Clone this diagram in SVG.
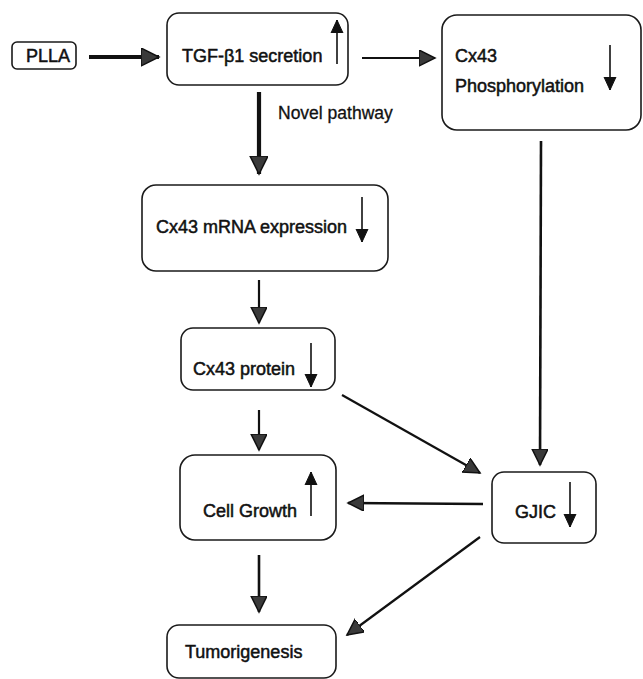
<svg xmlns="http://www.w3.org/2000/svg" width="643" height="679" viewBox="0 0 643 679">
<style>
.box{fill:#fff;stroke:#1a1a1a;stroke-width:1.6}
.t{font-family:"Liberation Sans",Arial,sans-serif;font-size:18px;fill:#111;stroke:#111;stroke-width:0.5}
.lbl{font-family:"Liberation Sans",Arial,sans-serif;font-size:17.5px;fill:#111;stroke:#111;stroke-width:0.3}
.c{fill:none;stroke:#111;stroke-width:2.2}
.thick{stroke-width:4.2}
.ind{fill:none;stroke:#111;stroke-width:1.6}
</style>
<defs>
<marker id="big" markerUnits="userSpaceOnUse" markerWidth="20" markerHeight="20" refX="18" refY="9" orient="auto" viewBox="0 0 20 20">
<path d="M0,0 L18,9 L0,18 z" fill="#3a3a3a" stroke="#111" stroke-width="1.5"/>
</marker>
<marker id="mid" markerUnits="userSpaceOnUse" markerWidth="18" markerHeight="18" refX="16" refY="8" orient="auto" viewBox="0 0 18 18">
<path d="M0,0 L16,8 L0,16 z" fill="#3a3a3a" stroke="#111" stroke-width="1.5"/>
</marker>
<marker id="sm" markerUnits="userSpaceOnUse" markerWidth="14" markerHeight="14" refX="13" refY="6" orient="auto" viewBox="0 0 14 12">
<path d="M0,0 L13,6 L0,12 z" fill="#111" stroke="#111" stroke-width="1"/>
</marker>
</defs>
<g id="connectors">
<line class="c thick" x1="89" y1="57" x2="159" y2="57" marker-end="url(#big)"/>
<line class="c" x1="362" y1="58" x2="435" y2="58" marker-end="url(#mid)"/>
<line class="c thick" x1="259" y1="92" x2="259" y2="174" marker-end="url(#big)"/>
<line class="c" style="stroke-width:2.6" x1="541" y1="141" x2="540" y2="465" marker-end="url(#mid)"/>
<line class="c" x1="259" y1="280" x2="259" y2="323" marker-end="url(#mid)"/>
<line class="c" x1="259" y1="410" x2="259" y2="450" marker-end="url(#mid)"/>
<line class="c" x1="342" y1="395" x2="480" y2="473" marker-end="url(#mid)"/>
<line class="c" style="stroke-width:2.6" x1="483" y1="504" x2="348" y2="503" marker-end="url(#mid)"/>
<line class="c" x1="480" y1="537" x2="347" y2="635" marker-end="url(#mid)"/>
<line class="c" style="stroke-width:2.6" x1="259" y1="555" x2="259" y2="612" marker-end="url(#mid)"/>
</g>
<g id="plla">
<rect class="box" x="12" y="42" width="64" height="27" rx="5"/>
<text class="t" x="26" y="62">PLLA</text>
</g>
<g id="tgf">
<rect class="box" x="167" y="13" width="181" height="72" rx="12"/>
<text class="t" x="182" y="62">TGF-β1 secretion</text>
<line class="ind" x1="337" y1="64" x2="337" y2="20" marker-end="url(#sm)"/>
</g>
<g id="phos">
<rect class="box" x="442" y="15" width="199" height="115" rx="15"/>
<text class="t" x="455" y="62">Cx43</text>
<text class="t" x="455" y="92">Phosphorylation</text>
<line class="ind" x1="610" y1="45" x2="610" y2="90" marker-end="url(#sm)"/>
</g>
<g id="novel">
<text class="lbl" x="278" y="119">Novel pathway</text>
</g>
<g id="mrna">
<rect class="box" x="142" y="185" width="246" height="86" rx="14"/>
<text class="t" x="156" y="233">Cx43 mRNA expression</text>
<line class="ind" x1="362" y1="197" x2="362" y2="242" marker-end="url(#sm)"/>
</g>
<g id="protein">
<rect class="box" x="181" y="328" width="154" height="62" rx="12"/>
<text class="t" x="193" y="375">Cx43 protein</text>
<line class="ind" x1="311" y1="343" x2="311" y2="387" marker-end="url(#sm)"/>
</g>
<g id="growth">
<rect class="box" x="180" y="455" width="156" height="85" rx="15"/>
<text class="t" x="203" y="517">Cell Growth</text>
<line class="ind" x1="311" y1="516" x2="311" y2="472" marker-end="url(#sm)"/>
</g>
<g id="gjic">
<rect class="box" x="492" y="472" width="104" height="71" rx="12"/>
<text class="t" x="515" y="518">GJIC</text>
<line class="ind" x1="570" y1="482" x2="570" y2="527" marker-end="url(#sm)"/>
</g>
<g id="tumor">
<rect class="box" x="167" y="625" width="169" height="53" rx="12"/>
<text class="t" x="185" y="658">Tumorigenesis</text>
</g>
</svg>
